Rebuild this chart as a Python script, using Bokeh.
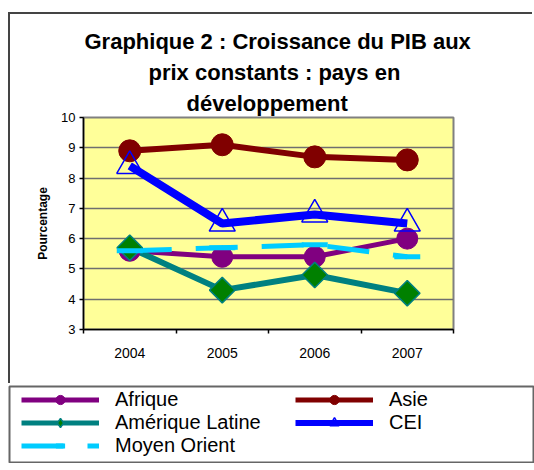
import math
from bokeh.plotting import figure
from bokeh.models import Range1d, FixedTicker, Legend, LegendItem, Title
from bokeh.embed import file_html
from bokeh.resources import INLINE

# ---- data ----
years = [2004, 2005, 2006, 2007]
afrique = [5.6, 5.4, 5.4, 6.0]
asie = [8.9, 9.1, 8.7, 8.6]
amerique_latine = [5.7, 4.3, 4.8, 4.2]
cei = [8.4, 6.5, 6.8, 6.5]
moyen_orient = [5.6, 5.7, 5.8, 5.4]
y_ticks = [3, 4, 5, 6, 7, 8, 9, 10]
year_bounds = [2003.5, 2004.5, 2005.5, 2006.5, 2007.5]
title_lines = ["Graphique 2 : Croissance du PIB aux", "prix constants : pays en", "développement"]
y_label = "Pourcentage"
series_names = ["Afrique", "Asie", "Amérique Latine", "CEI", "Moyen Orient"]

FONT = "Liberation Sans"
OX, OY = 10, 14                      # chart canvas origin on the page
LEG_TOP = 385                        # page y of the legend box
W, H = 534 - OX, LEG_TOP - OY
FL, FR, FT, FB = 83 - OX, 453 - OX, 117 - OY, 329 - OY   # plot area inside the canvas

p = figure(width=W, height=H, output_backend="svg", toolbar_location=None,
           x_range=Range1d(2003.5, 2007.5), y_range=Range1d(3, 10),
           min_border_left=FL, min_border_right=W - FR,
           min_border_top=FT, min_border_bottom=H - FB,
           background_fill_color="#FFFF99", border_fill_color="white")
p.margin = (OY, 0, 0, OX)
p.styles = {"box-shadow": "-2px -2px 0px 0px #444444"}
p.outline_line_color = "#808080"
p.outline_line_width = 2

# x axis
xa = p.xaxis[0]
xa.ticker = FixedTicker(ticks=years, minor_ticks=year_bounds)
xa.major_tick_out = 0
xa.major_tick_in = 0
xa.minor_tick_out = 4
xa.minor_tick_in = 0
xa.minor_tick_line_color = "black"
xa.minor_tick_line_width = 1.5
xa.axis_line_color = "black"
xa.axis_line_width = 1.5
xa.major_label_standoff = 14
xa.major_label_text_font = FONT
xa.major_label_text_font_size = "14px"
xa.major_label_text_color = "black"

# y axis
ya = p.yaxis[0]
ya.ticker = FixedTicker(ticks=y_ticks)
ya.major_tick_out = 4
ya.major_tick_in = 0
ya.minor_tick_line_color = None
ya.major_tick_line_color = "black"
ya.major_tick_line_width = 1.5
ya.axis_line_color = "black"
ya.axis_line_width = 1.5
ya.major_label_standoff = 4
ya.major_label_text_font = FONT
ya.major_label_text_font_size = "13px"
ya.major_label_text_color = "black"
ya.axis_label = y_label
ya.axis_label_text_font = FONT
ya.axis_label_text_font_size = "12px"
ya.axis_label_text_font_style = "bold"
ya.axis_label_text_color = "black"
ya.axis_label_standoff = 8

p.xgrid.visible = False
p.ygrid.ticker = FixedTicker(ticks=y_ticks)
p.ygrid.grid_line_color = "#6f6f6f"
p.ygrid.grid_line_width = 1.5

# ---- series styles ----
colors = ["#800080", "#800000", "#008080", "#0000FF", "#00CCFF"]
line_widths = [5, 6, 6, 8, 5]
line_dashes = ["solid", "solid", "solid", "solid", "42 24"]
marker_styles = [dict(marker="circle", size=21, fill_color="#800080", line_color="#800080"),
                 dict(marker="circle", size=22, fill_color="#800000", line_color="#800000"),
                 dict(marker="square", angle=math.pi / 4, size=18, fill_color="#008000",
                      line_color="#008080", line_width=1.5),
                 dict(marker="triangle", size=26, fill_color=None, line_color="#0000FF", line_width=1.5),
                 dict(marker="dash", size=26, line_color="#00CCFF", line_width=5)]
series = [afrique, asie, amerique_latine, cei, moyen_orient]

for vals, c, lw, ld in zip(series, colors, line_widths, line_dashes):
    p.line(years, vals, line_color=c, line_width=lw, line_dash=ld)
for vals, ms in zip(series, marker_styles):
    p.scatter(years, vals, **ms)

# ---- title (innermost line first) ----
for txt, left in reversed(list(zip(title_lines, [84, 148, 186]))):
    p.add_layout(Title(text=txt, align="left", offset=left - 83, standoff=4,
                       text_font=FONT, text_font_size="22px", text_font_style="bold",
                       text_color="black"), "above")

# ---- legend box (separate canvas under the chart) ----
LX = 8
LW, LH = 534 - LX, 463 - LEG_TOP
q = figure(width=LW, height=LH, output_backend="svg", toolbar_location=None,
           x_axis_type=None, y_axis_type=None,
           x_range=Range1d(0, 1), y_range=Range1d(0, 1),
           min_border_left=1, min_border_right=0, min_border_top=1, min_border_bottom=1,
           background_fill_color="white", border_fill_color="white")
q.margin = (0, 0, 0, LX)
q.grid.visible = False
q.outline_line_color = "#666666"
q.outline_line_width = 2

legend_line_widths = [5, 5, 5, 6, 5]
legend_markers = [dict(marker="circle", fill_color="#800080", line_color="#800080"),
                  dict(marker="circle", fill_color="#800000", line_color="#800000"),
                  dict(marker="diamond", fill_color="#008000", line_color="#008080", line_width=1.5),
                  dict(marker="triangle", fill_color=None, line_color="#0000FF", line_width=1.5),
                  dict(marker="dash", line_color="#00CCFF", line_width=5)]

nan = float("nan")
items = []
for name, c, lw, ld, ms in zip(series_names, colors, legend_line_widths, line_dashes, legend_markers):
    rl = q.line(x=[nan], y=[nan], line_color=c, line_width=lw, line_dash=ld)
    rm = q.scatter(x=[nan], y=[nan], **ms)
    items.append(LegendItem(label=name, renderers=[rl, rm]))

row_h = 23                      # measured row pitch for 20px labels
leg_h = 3 * row_h
leg_top = 399 - row_h / 2
frame_bottom = LEG_TOP + LH - 1
standoff = 16
legend = Legend(items=items, orientation="horizontal", ncols=2,
                location=(21 - (LX + 1), frame_bottom - (leg_top + leg_h)),
                glyph_width=78, glyph_height=row_h, label_height=20,
                label_width=(295 - 21) - 78 - standoff,
                label_standoff=standoff, padding=0, margin=0, spacing=0,
                border_line_color=None, background_fill_alpha=0,
                label_text_font=FONT, label_text_font_size="20px", label_text_color="black")
q.add_layout(legend, "center")

open("out.html", "w").write(file_html([p, q], INLINE))
